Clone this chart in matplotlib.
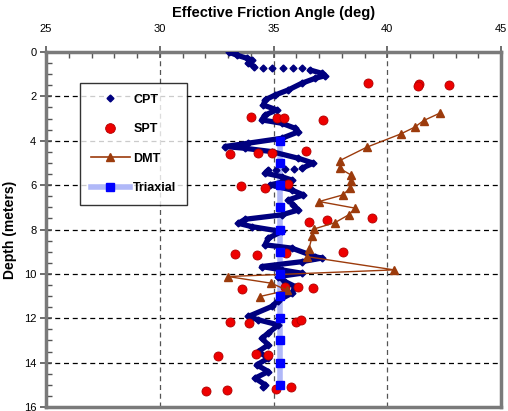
import numpy as np
import matplotlib
matplotlib.use("Agg")
import matplotlib.pyplot as plt
from matplotlib.lines import Line2D
from matplotlib.ticker import MultipleLocator

plt.rcParams['font.family'] = ['Liberation Sans', 'DejaVu Sans']

# CPT profile (friction angle, depth); nan = gap where readings are sparse
cpt_angle = [33.04, 33.38, 33.82, 34.04, 33.88, 34.16, np.nan,
             36.6, 37.12, 37.26, 36.82, 36.24, 35.65, 35.07, 34.63, 34.55, 35.14,
             34.63, 34.48, 35.36, 35.95, 36.09, 35.36, 33.89, 32.87, 33.75, 34.92,
             36.09, 36.75, 36.24, np.nan,
             34.77, 34.63, 35.36, 35.8, 34.85, 35.8, 36.31, 35.65, 35.87, 36.09,
             35.36, 33.75, 33.45, 34.04, 35.36, 34.77, 34.63, 35.8, 36.82, 37.12,
             36.24, 34.48, 35.36, 36.24, 35.21, 35.51, 35.95, 35.8, 35.21, 34.92,
             33.89, 34.33, 35.21, 34.77, 34.48, 34.77, 34.33, 34.77, 34.26, 34.77,
             34.19, 34.63, 34.55]
cpt_depth = [0.01, 0.14, 0.28, 0.36, 0.51, 0.66, np.nan,
             0.81, 0.96, 1.07, 1.19, 1.41, 1.71, 1.94, 2.16, 2.39, 2.61,
             2.84, 3.06, 3.21, 3.44, 3.6, 3.89, 4.11, 4.26, 4.34, 4.49,
             4.79, 5.01, 5.24, np.nan,
             5.32, 5.46, 5.62, 5.77, 5.99, 6.22, 6.44, 6.67, 6.89, 7.12,
             7.34, 7.54, 7.72, 7.87, 8.09, 8.39, 8.69, 8.84, 9.22, 9.29,
             9.45, 9.67, 9.82, 9.97, 10.12, 10.35, 10.57, 10.87, 11.2, 11.47,
             11.92, 12.07, 12.3, 12.67, 12.9, 13.2, 13.5, 13.8, 14.1, 14.4,
             14.7, 15.0, 15.1]
# sparse CPT readings
cpt_sparse_angle = [34.55, 34.95, 35.43, 35.87, 36.24, 35.9, 35.5, 35.1]
cpt_sparse_depth = [0.74, 0.74, 0.74, 0.74, 0.74, 5.28, 5.29, 5.3]

spt_angle = [39.17, 41.4, 41.37, 42.71,
             34.0, 35.17, 35.48, 37.19,
             33.09, 34.33, 34.92, 36.43,
             33.57, 34.63, 35.65,
             36.57, 37.34, 39.34,
             33.31, 34.26, 35.55, 38.04,
             33.63, 35.51, 36.09, 36.75,
             33.09, 33.92, 35.99, 36.21,
             32.58, 34.23, 34.74,
             32.03, 32.94, 35.11, 35.77]
spt_depth = [1.38, 1.44, 1.53, 1.47,
             2.91, 2.99, 2.96, 3.06,
             4.59, 4.53, 4.53, 4.45,
             6.04, 6.14, 5.95,
             7.64, 7.57, 7.49,
             9.11, 9.17, 9.07, 9.02,
             10.68, 10.57, 10.57, 10.62,
             12.18, 12.22, 12.15, 12.07,
             13.72, 13.6, 13.65,
             15.27, 15.23, 15.2, 15.12]

dmt_angle = [42.3, 41.6, 41.2, 40.6, 39.1, 37.9, 37.9, 38.4, 38.4, 38.35, 38.05,
             37.0, 38.6, 38.3, 37.7, 36.8, 36.7, 36.55, 36.45, 40.3, 33.0, 34.9,
             35.6, 34.4]
dmt_depth = [2.76, 3.09, 3.39, 3.69, 4.29, 4.9, 5.24, 5.54, 5.8, 6.14, 6.44,
             6.74, 7.04, 7.34, 7.69, 7.97, 8.3, 8.9, 9.22, 9.82, 10.12, 10.42,
             10.74, 11.02]

tri_angle = [35.3] * 12
tri_depth = [4, 5, 6, 7, 8, 9, 10, 11, 12, 13, 14, 15]

navy = '#00007f'
brown = '#9c3b0c'

fig = plt.figure(figsize=(5.08, 4.11), dpi=100)
ax = fig.add_axes([0.0906, 0.0097, 0.8957, 0.8638])

# grid
for d in range(2, 16, 2):
    ax.axhline(d, color='black', lw=0.9, ls=(0, (4, 3)), zorder=1)
for a in [30, 35, 40]:
    ax.axvline(a, color='#555555', lw=0.9, ls=(0, (4, 3)), zorder=1)

ax.plot(tri_angle, tri_depth, color='#b0b8f8', lw=4, zorder=2)
ax.plot(tri_angle, tri_depth, ls='none', marker='s', ms=5.5, color='#0000ff', zorder=5)

ax.plot(cpt_angle, cpt_depth, color=navy, lw=3.8, zorder=3, solid_capstyle='round')
ax.plot(cpt_angle, cpt_depth, ls='none', marker='D', ms=3.5, color=navy, zorder=3)
ax.plot(cpt_sparse_angle, cpt_sparse_depth, ls='none', marker='D', ms=3.5, color=navy, zorder=3)

ax.plot(spt_angle, spt_depth, ls='none', marker='o', ms=6.5, mfc='#ee0000',
        mec='#b00000', mew=0.6, zorder=4)

ax.plot(dmt_angle, dmt_depth, color=brown, lw=1, marker='^', ms=5.5, zorder=4)

ax.set_xlim(25, 45)
ax.set_ylim(16, 0)
ax.xaxis.tick_top()
ax.xaxis.set_label_position('top')
ax.set_xticks([25, 30, 35, 40, 45])
ax.set_yticks(range(0, 17, 2))
ax.xaxis.set_minor_locator(MultipleLocator(1))
ax.yaxis.set_minor_locator(MultipleLocator(0.5))
ax.tick_params(which='major', direction='inout', length=8, width=1.2, color='#555555',
               labelsize=8)
ax.tick_params(axis='x', which='major', pad=9)
ax.tick_params(axis='y', which='major', pad=3)
ax.tick_params(which='minor', direction='in', length=4, width=1, color='#555555')
ax.tick_params(axis='x', which='both', top=True, bottom=False)
ax.tick_params(axis='y', which='both', left=True, right=False)

for side, sp in ax.spines.items():
    sp.set_color('#7a7a7a')
    sp.set_linewidth(2.5)

ax.set_xlabel('Effective Friction Angle (deg)', fontsize=10.5, fontweight='bold', labelpad=5)
ax.set_ylabel('Depth (meters)', fontsize=10, fontweight='bold', labelpad=5)

handles = [
    Line2D([], [], ls='none', marker='D', ms=3.5, color=navy),
    Line2D([], [], ls='none', marker='o', ms=7, mfc='#ee0000', mec='#b00000', mew=0.6),
    Line2D([], [], color=brown, lw=1.2, marker='^', ms=6),
    Line2D([], [], color='#b0b8f8', lw=4, marker='s', ms=6, mfc='#0000ff', mec='#0000ff'),
]
leg = ax.legend(handles, ['CPT', 'SPT', 'DMT', 'Triaxial'], loc='upper left',
                bbox_to_anchor=(0.075, 0.913), borderaxespad=0, frameon=True, fancybox=False,
                edgecolor='black', labelspacing=1.4, handlelength=3.1,
                borderpad=0.85, handletextpad=0.3, prop={'weight': 'bold', 'size': 9})
leg.get_frame().set_linewidth(1)
leg.set_zorder(6)

fig.savefig('out.png', dpi=100)
